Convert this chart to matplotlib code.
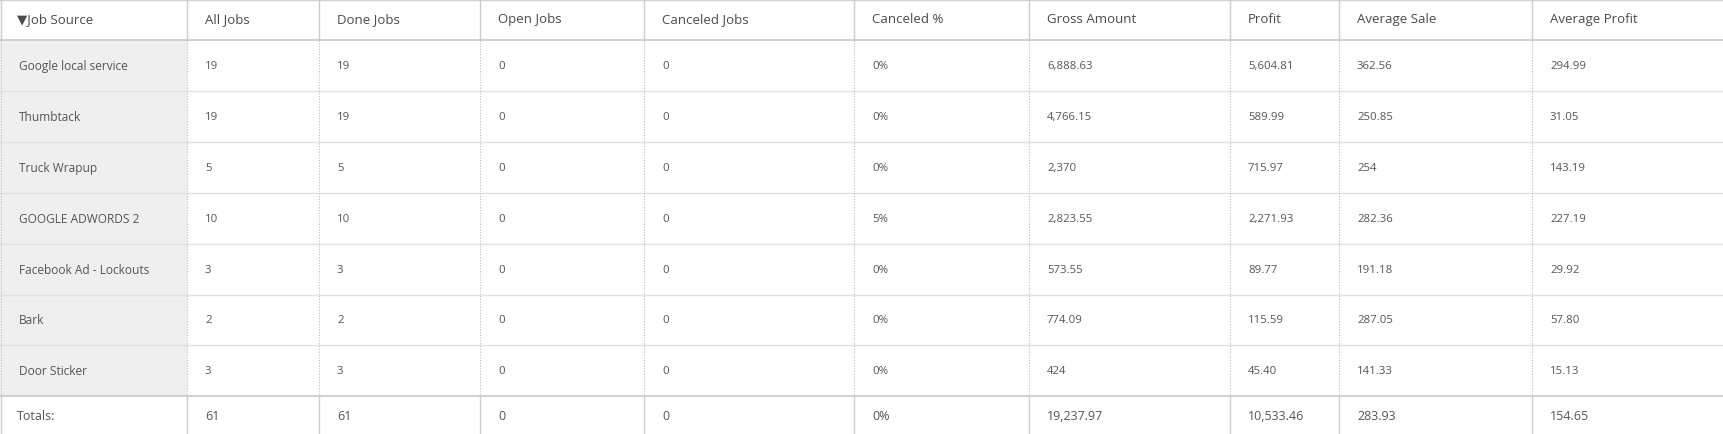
import matplotlib
matplotlib.use("Agg")
import matplotlib.pyplot as plt

plt.rcParams['font.family'] = ['Open Sans', 'DejaVu Sans']

headers = ['\u25BCJob Source', 'All Jobs', 'Done Jobs', 'Open Jobs', 'Canceled Jobs',
           'Canceled %', 'Gross Amount', 'Profit', 'Average Sale', 'Average Profit']
sources = ['Google local service', 'Thumbtack', 'Truck Wrapup', 'GOOGLE ADWORDS 2',
           'Facebook Ad - Lockouts', 'Bark', 'Door Sticker']
all_jobs = ['19', '19', '5', '10', '3', '2', '3']
done_jobs = ['19', '19', '5', '10', '3', '2', '3']
open_jobs = ['0', '0', '0', '0', '0', '0', '0']
canceled_jobs = ['0', '0', '0', '0', '0', '0', '0']
canceled_pct = ['0%', '0%', '0%', '5%', '0%', '0%', '0%']
gross = ['6,888.63', '4,766.15', '2,370', '2,823.55', '573.55', '774.09', '424']
profit = ['5,604.81', '589.99', '715.97', '2,271.93', '89.77', '115.59', '45.40']
avg_sale = ['362.56', '250.85', '254', '282.36', '191.18', '287.05', '141.33']
avg_profit = ['294.99', '31.05', '143.19', '227.19', '29.92', '57.80', '15.13']
totals = ['Totals:', '61', '61', '0', '0', '0%', '19,237.97', '10,533.46', '283.93', '154.65']

columns = [sources, all_jobs, done_jobs, open_jobs, canceled_jobs, canceled_pct,
           gross, profit, avg_sale, avg_profit]

W, H = 1724, 435
col_x = [0, 187, 319, 480, 644, 854, 1029, 1230, 1339, 1532, 1724]
header_h = 41
row_h = 50.9
body_top = header_h
body_bot = body_top + row_h * len(sources)

fig = plt.figure(figsize=(W / 100, H / 100), dpi=100)
ax = fig.add_axes([0, 0, 1, 1])
ax.set_xlim(0, W)
ax.set_ylim(H, 0)
ax.axis('off')

# gray first column
ax.add_patch(plt.Rectangle((0, body_top), col_x[1], body_bot - body_top,
                           color='#efefef', lw=0))

# horizontal lines
ax.plot([0, W], [0.5, 0.5], color='#d0d0d0', lw=1)
ax.plot([0, W], [header_h, header_h], color='#c8c8c8', lw=1.2)
for i in range(1, len(sources)):
    y = body_top + i * row_h
    ax.plot([0, W], [y, y], color='#e2e2e2', lw=1)
ax.plot([0, W], [body_bot, body_bot], color='#c8c8c8', lw=1.2)

# vertical lines
for x in col_x[:-1]:
    xx = max(x, 0.8)
    ax.plot([xx, xx], [0, header_h], color='#cccccc', lw=1)
    ax.plot([xx, xx], [body_top, body_bot], color='#bbbbbb', lw=0.8, ls=(0, (1, 1.5)))
    ax.plot([xx, xx], [body_bot, H], color='#cccccc', lw=1)

# header text
for j, h in enumerate(headers):
    x = col_x[j] + (17 if j == 0 else 18)
    ax.text(x, header_h / 2 - 1, h, fontsize=9.5, color='#4a4a4a', va='center', ha='left')

# body text
for j, col in enumerate(columns):
    x = col_x[j] + (19 if j == 0 else 18)
    for i, v in enumerate(col):
        y = body_top + (i + 0.5) * row_h
        ax.text(x, y, v, fontsize=8.6 if j == 0 else 8.2, color='#555555',
                va='center', ha='left')

# totals
for j, v in enumerate(totals):
    x = col_x[j] + (17 if j == 0 else 18)
    ax.text(x, (body_bot + H) / 2, v, fontsize=9, color='#555555', va='center', ha='left')

fig.savefig('out.png', dpi=100, facecolor='white')
